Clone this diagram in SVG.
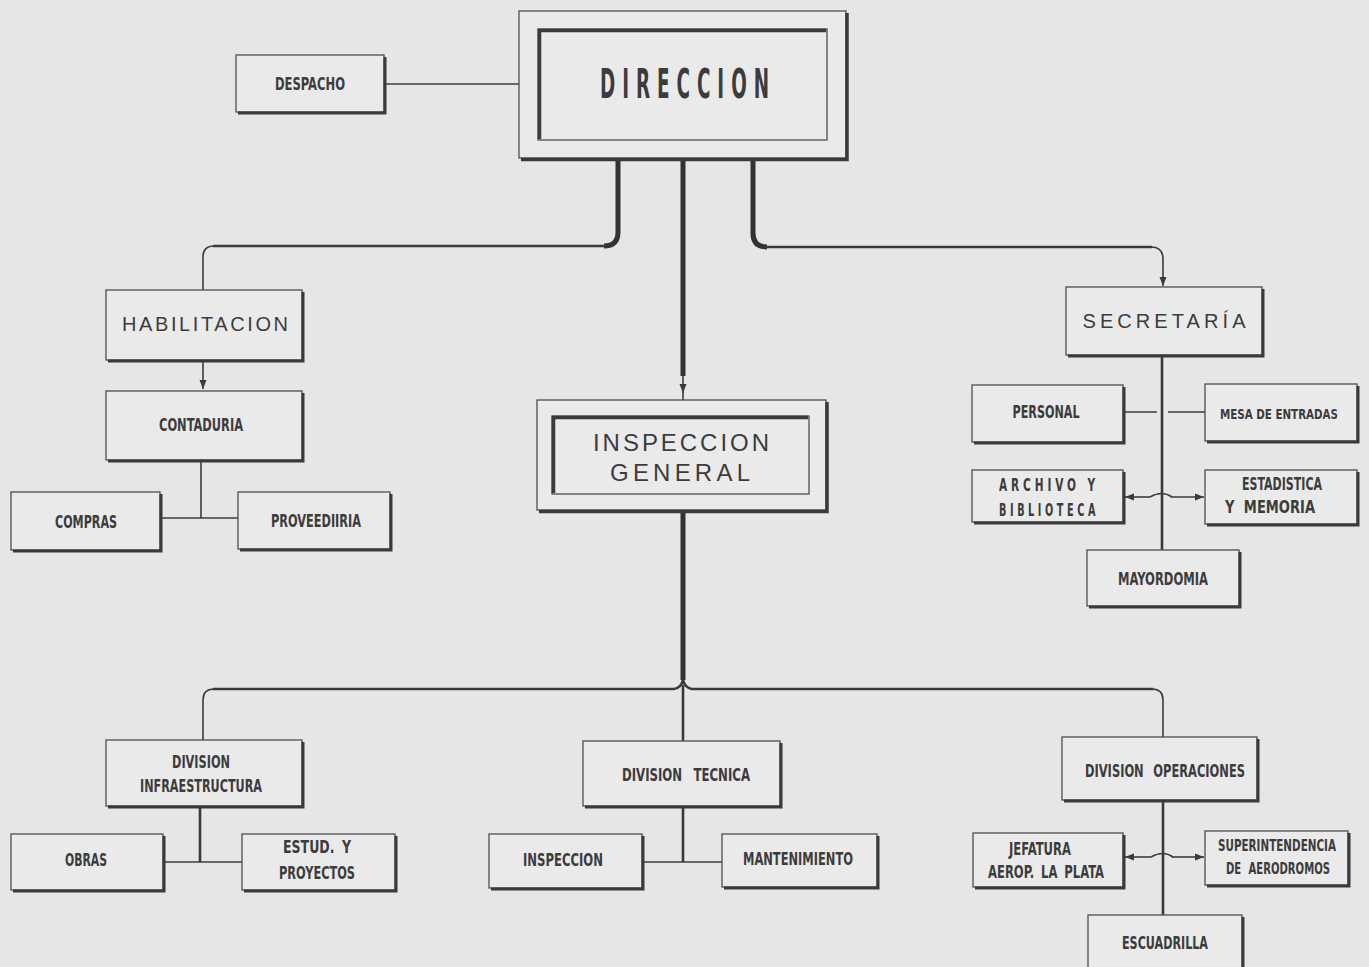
<svg xmlns="http://www.w3.org/2000/svg" width="1369" height="967" viewBox="0 0 1369 967">
<style>
.bg{fill:#e6e6e6}
.box{fill:#eaeaea;stroke:#4e4e4e;stroke-width:1.3}
.sh{fill:none;stroke:#3a3a3a;stroke-width:3}
.in{fill:none;stroke:#3a3a3a;stroke-width:3.5}
.t{font-family:"Liberation Sans Narrow","DejaVu Sans Condensed","Liberation Sans",Arial,sans-serif;font-weight:bold;font-size:18px;fill:#3c3c3c;text-anchor:middle}
.w{font-family:"Liberation Sans",Arial,sans-serif;font-size:20px;fill:#3c3c3c;text-anchor:middle}
.ln{fill:none;stroke:#3c3c3c;stroke-width:1.6}
.ln2{fill:none;stroke:#3a3a3a;stroke-width:2.6}
.thk{fill:none;stroke:#333;stroke-width:5}
</style>
<defs>
<marker id="ah" markerUnits="userSpaceOnUse" markerWidth="10" markerHeight="10" viewBox="0 0 10 10" refX="9" refY="5" orient="auto">
<path d="M0,1.5 L9,5 L0,8.5 Z" fill="#3a3a3a"/>
</marker>
</defs>
<rect class="bg" x="0" y="0" width="1369" height="967"/>

<g id="connectors">
<path class="ln" d="M384,84 H519"/>
<path class="thk" d="M618,158 V232 Q618,246 604,246"/>
<path class="ln2" d="M606,246 H213"/>
<path class="ln" d="M214,246 Q203,246 203,257 V290"/>
<path class="thk" d="M683,158 V376"/>
<path class="ln" d="M683,374 V393" marker-end="url(#ah)"/>
<path class="ln" d="M683,392 V400"/>
<path class="thk" d="M753,158 V233 Q753,247 767,247"/>
<path class="ln2" d="M765,247 H1152"/>
<path class="ln" d="M1151,247 Q1163,247 1163,259 V286" marker-end="url(#ah)"/>
<path class="ln" d="M203,360 V389" marker-end="url(#ah)"/>
<path class="ln" d="M201,460 V518"/>
<path class="ln" d="M160,518 H238"/>
<path class="thk" d="M683,510 V680"/>
<path class="ln2" d="M213,689 H674 Q681,688 683,680 Q685,688 692,689 H1153"/>
<path class="ln" d="M214,689 Q203,689 203,700 V740"/>
<path class="ln" d="M1152,689 Q1163,689 1163,700 V737"/>
<path class="ln2" d="M683,685 V741"/>
<path class="ln2" d="M200,806 V862"/>
<path class="ln" d="M163,862 H242"/>
<path class="ln2" d="M683,806 V862"/>
<path class="ln" d="M642,862 H722"/>
<path class="ln2" d="M1162,355 V550"/>
<path class="ln" d="M1123,412 H1157 M1168,412 H1205"/>
<path class="ln" d="M1150,497 H1125" marker-end="url(#ah)"/>
<path class="ln" d="M1150,497 Q1162,490 1172,497"/>
<path class="ln" d="M1171,497 H1204" marker-end="url(#ah)"/>
<path class="ln2" d="M1163,800 V915"/>
<path class="ln" d="M1151,857 H1125" marker-end="url(#ah)"/>
<path class="ln" d="M1151,857 Q1163,850 1173,857"/>
<path class="ln" d="M1172,857 H1204" marker-end="url(#ah)"/>
</g>

<g id="despacho">
<rect class="box" x="236" y="55" width="148" height="57"/>
<path class="sh" d="M385,57 V113 H238"/>
<text class="t" x="310" y="90" textLength="70" lengthAdjust="spacingAndGlyphs">DESPACHO</text>
</g>

<g id="direccion">
<rect class="box" x="519" y="11" width="327" height="147"/>
<path class="sh" d="M847,13 V159.5 H521" style="stroke-width:3.5"/>
<rect class="box" x="538" y="29" width="289" height="111"/>
<path class="in" d="M539.5,139 V30.5 H826"/>
<text class="t" x="688" y="98" style="font-size:41px;letter-spacing:14px" textLength="176" lengthAdjust="spacingAndGlyphs">DIRECCION</text>
</g>

<g id="habilitacion">
<rect class="box" x="106" y="290" width="196" height="70"/>
<path class="sh" d="M303,292 V361 H108"/>
<text class="w" x="205" y="331" textLength="166" lengthAdjust="spacing">HABILITACION</text>
</g>

<g id="contaduria">
<rect class="box" x="106" y="391" width="196" height="69"/>
<path class="sh" d="M303,393 V461 H108"/>
<text class="t" x="201" y="431" textLength="84" lengthAdjust="spacingAndGlyphs">CONTADURIA</text>
</g>

<g id="compras">
<rect class="box" x="11" y="492" width="149" height="58"/>
<path class="sh" d="M161,494 V551 H13"/>
<text class="t" x="86" y="528" textLength="62" lengthAdjust="spacingAndGlyphs">COMPRAS</text>
</g>

<g id="proveeduria">
<rect class="box" x="238" y="492" width="152" height="57"/>
<path class="sh" d="M391,494 V550 H240"/>
<text class="t" x="316" y="527" textLength="90" lengthAdjust="spacingAndGlyphs">PROVEEDIIRIA</text>
</g>

<g id="inspeccion-general">
<rect class="box" x="537" y="400" width="289" height="110"/>
<path class="sh" d="M827,402 V511.5 H539" style="stroke-width:3.5"/>
<rect class="box" x="552" y="416" width="257" height="78"/>
<path class="in" d="M553.5,493 V417.5 H808"/>
<text class="w" x="681" y="451" style="font-size:24px" textLength="176" lengthAdjust="spacing">INSPECCION</text>
<text class="w" x="680" y="481" style="font-size:24px" textLength="140" lengthAdjust="spacing">GENERAL</text>
</g>

<g id="secretaria">
<rect class="box" x="1066" y="287" width="196" height="68"/>
<path class="sh" d="M1263,289 V356 H1068"/>
<text class="w" x="1164" y="328" textLength="163" lengthAdjust="spacing">SECRETARÍA</text>
</g>

<g id="personal">
<rect class="box" x="972" y="385" width="151" height="57"/>
<path class="sh" d="M1124,387 V443 H974"/>
<text class="t" x="1046" y="418" textLength="67" lengthAdjust="spacingAndGlyphs">PERSONAL</text>
</g>

<g id="mesa-de-entradas">
<rect class="box" x="1205" y="384" width="152" height="57"/>
<path class="sh" d="M1358,386 V442 H1207"/>
<text class="t" x="1279" y="419" style="font-size:14px" textLength="118" lengthAdjust="spacingAndGlyphs">MESA DE ENTRADAS</text>
</g>

<g id="archivo">
<rect class="box" x="972" y="470" width="151" height="52"/>
<path class="sh" d="M1124,472 V523 H974"/>
<text class="t" x="1049" y="491" style="letter-spacing:6px" textLength="100" lengthAdjust="spacingAndGlyphs">ARCHIVO Y</text>
<text class="t" x="1049" y="516" style="letter-spacing:6px" textLength="100" lengthAdjust="spacingAndGlyphs">BIBLIOTECA</text>
</g>

<g id="estadistica">
<rect class="box" x="1205" y="470" width="152" height="54"/>
<path class="sh" d="M1358,472 V525 H1207"/>
<text class="t" x="1282" y="490" textLength="80" lengthAdjust="spacingAndGlyphs">ESTADISTICA</text>
<text class="t" x="1270" y="513" style="word-spacing:6px" textLength="90" lengthAdjust="spacingAndGlyphs">Y MEMORIA</text>
</g>

<g id="mayordomia">
<rect class="box" x="1087" y="550" width="152" height="56"/>
<path class="sh" d="M1240,552 V607 H1089"/>
<text class="t" x="1163" y="585" textLength="90" lengthAdjust="spacingAndGlyphs">MAYORDOMIA</text>
</g>

<g id="division-infraestructura">
<rect class="box" x="106" y="740" width="196" height="66"/>
<path class="sh" d="M303,742 V807 H108"/>
<text class="t" x="201" y="768" textLength="58" lengthAdjust="spacingAndGlyphs">DIVISION</text>
<text class="t" x="201" y="792" textLength="122" lengthAdjust="spacingAndGlyphs">INFRAESTRUCTURA</text>
</g>

<g id="obras">
<rect class="box" x="11" y="834" width="152" height="56"/>
<path class="sh" d="M164,836 V891 H13"/>
<text class="t" x="86" y="866" textLength="42" lengthAdjust="spacingAndGlyphs">OBRAS</text>
</g>

<g id="estud-proyectos">
<rect class="box" x="242" y="834" width="153" height="56"/>
<path class="sh" d="M396,836 V891 H244"/>
<text class="t" x="317" y="853" style="word-spacing:4px" textLength="68" lengthAdjust="spacingAndGlyphs">ESTUD. Y</text>
<text class="t" x="317" y="879" textLength="76" lengthAdjust="spacingAndGlyphs">PROYECTOS</text>
</g>

<g id="division-tecnica">
<rect class="box" x="583" y="741" width="197" height="65"/>
<path class="sh" d="M781,743 V807 H585"/>
<text class="t" x="686" y="781" style="word-spacing:10px" textLength="128" lengthAdjust="spacingAndGlyphs">DIVISION TECNICA</text>
</g>

<g id="inspeccion">
<rect class="box" x="489" y="834" width="153" height="54"/>
<path class="sh" d="M643,836 V889 H491"/>
<text class="t" x="563" y="866" textLength="80" lengthAdjust="spacingAndGlyphs">INSPECCION</text>
</g>

<g id="mantenimiento">
<rect class="box" x="722" y="834" width="155" height="53"/>
<path class="sh" d="M878,836 V888 H724"/>
<text class="t" x="798" y="865" textLength="110" lengthAdjust="spacingAndGlyphs">MANTENIMIENTO</text>
</g>

<g id="division-operaciones">
<rect class="box" x="1062" y="737" width="195" height="63"/>
<path class="sh" d="M1258,739 V801 H1064"/>
<text class="t" x="1165" y="777" style="word-spacing:8px" textLength="160" lengthAdjust="spacingAndGlyphs">DIVISION OPERACIONES</text>
</g>

<g id="jefatura">
<rect class="box" x="973" y="833" width="150" height="54"/>
<path class="sh" d="M1124,835 V888 H975"/>
<text class="t" x="1040" y="855" textLength="62" lengthAdjust="spacingAndGlyphs">JEFATURA</text>
<text class="t" x="1046" y="878" style="word-spacing:4px" textLength="116" lengthAdjust="spacingAndGlyphs">AEROP. LA PLATA</text>
</g>

<g id="superintendencia">
<rect class="box" x="1205" y="831" width="143" height="54"/>
<path class="sh" d="M1349,833 V886 H1207"/>
<text class="t" x="1277" y="851" style="font-size:15px" textLength="118" lengthAdjust="spacingAndGlyphs">SUPERINTENDENCIA</text>
<text class="t" x="1278" y="874" style="font-size:15px;word-spacing:5px" textLength="104" lengthAdjust="spacingAndGlyphs">DE AERODROMOS</text>
</g>

<g id="escuadrilla">
<rect class="box" x="1088" y="915" width="154" height="60"/>
<path class="sh" d="M1243,917 V980"/>
<text class="t" x="1165" y="949" textLength="86" lengthAdjust="spacingAndGlyphs">ESCUADRILLA</text>
</g>
</svg>
